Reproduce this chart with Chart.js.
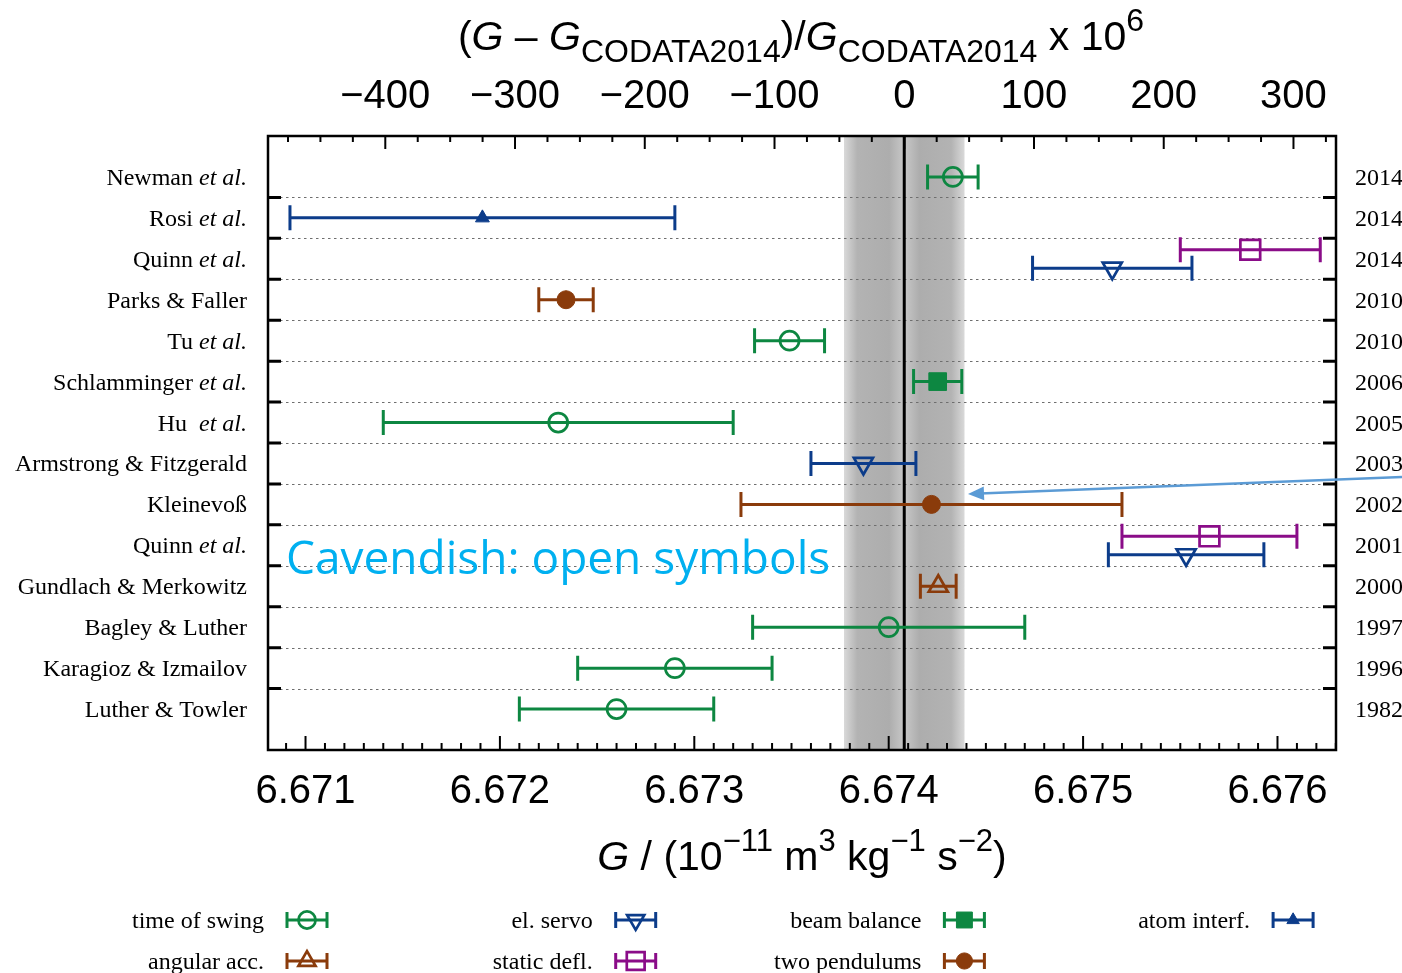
<!DOCTYPE html>
<html>
<head>
<meta charset="utf-8">
<script src="https://cdn.jsdelivr.net/npm/chart.js@4.4.1/dist/chart.umd.min.js"></script>
<style>
  html, body { margin: 0; padding: 0; background: #fff; }
  #wrap { width: 1402px; height: 973px; }
</style>
</head>
<body>
<div id="wrap"><canvas id="gChart" width="1402" height="973"></canvas></div>
<script>
// Measurements of G in units of 1e-11 m^3 kg^-1 s^-2, one row per experiment
const studies = ['Newman et al.', 'Rosi et al.', 'Quinn et al.', 'Parks & Faller', 'Tu et al.',
  'Schlamminger et al.', 'Hu  et al.', 'Armstrong & Fitzgerald', 'Kleinevoß', 'Quinn et al.',
  'Gundlach & Merkowitz', 'Bagley & Luther', 'Karagioz & Izmailov', 'Luther & Towler'];
const years = ['2014', '2014', '2014', '2010', '2010', '2006', '2005', '2003', '2002', '2001',
  '2000', '1997', '1996', '1982'];

// individual results (a row can hold two results)
const gRow = [0, 1, 2, 2, 3, 4, 5, 6, 7, 8, 9, 9, 10, 11, 12, 13];
const gValue = [6.67433, 6.67191, 6.67586, 6.67515, 6.67234, 6.67349, 6.674252, 6.6723,
  6.67387, 6.67422, 6.67565, 6.67553, 6.674255, 6.6740, 6.6729, 6.6726];
const gError = [0.00013, 0.00099, 0.00036, 0.00041, 0.00014, 0.00018, 0.000124, 0.0009,
  0.00027, 0.00098, 0.00045, 0.00040, 0.000092, 0.0007, 0.0005, 0.0005];
const gMethod = ['swing', 'atom', 'static', 'servo', 'pend', 'swing', 'beam', 'swing',
  'servo', 'pend', 'static', 'servo', 'angular', 'swing', 'swing', 'swing'];

// CODATA 2014 recommended value and its standard uncertainty
const gCodata = 6.67408;
const gCodataErr = 0.00031;

const xTicks = [6.671, 6.672, 6.673, 6.674, 6.675, 6.676];
const ppmTicks = [-400, -300, -200, -100, 0, 100, 200, 300];

const xMin = 6.670807, xMax = 6.676301;
const toPpm = g => (g - gCodata) / gCodata * 1e6;

const GREEN = '#0d8741', BLUE = '#0c3c8a', BROWN = '#8a3b0b', PURPLE = '#8a0c88';
const methodStyle = {
  swing:   { label: 'time of swing', color: GREEN,  shape: 'circle',   r: 9.5, rot: 0,   fill: false },
  angular: { label: 'angular acc.',  color: BROWN,  shape: 'triangle', r: 11,  rot: 0,   fill: false },
  servo:   { label: 'el. servo',     color: BLUE,   shape: 'triangle', r: 11,  rot: 180, fill: false },
  static:  { label: 'static defl.',  color: PURPLE, shape: 'rect',     r: 14,  rot: 0,   fill: false },
  beam:    { label: 'beam balance',  color: GREEN,  shape: 'rect',     r: 12.5, rot: 0,  fill: true },
  pend:    { label: 'two pendulums', color: BROWN,  shape: 'circle',   r: 9,   rot: 0,   fill: true },
  atom:    { label: 'atom interf.',  color: BLUE,   shape: 'triangle', r: 8,   rot: 0,   fill: true }
};
const legendColumns = [['swing', 'angular'], ['servo', 'static'], ['beam', 'pend'], ['atom']];

// two results sharing a row are pulled apart vertically
const rowOffset = gRow.map((r, i) => {
  const same = gRow.filter(v => v === r).length;
  if (same < 2) return 0;
  return gRow.indexOf(r) === i ? -0.22 : 0.23;
});

const datasets = Object.keys(methodStyle).map(key => {
  const st = methodStyle[key];
  const pts = [];
  gValue.forEach((g, i) => {
    if (gMethod[i] === key) pts.push({ x: g, y: gRow[i] + rowOffset[i], err: gError[i] });
  });
  return {
    label: st.label,
    data: pts,
    pointStyle: st.shape,
    pointRadius: st.r,
    pointHoverRadius: st.r,
    pointRotation: st.rot,
    pointBorderColor: st.color,
    pointBackgroundColor: st.fill ? st.color : 'rgba(0,0,0,0)',
    pointBorderWidth: st.fill ? 1 : 2.7,
    showLine: false
  };
});

const SERIF = '"Liberation Serif", "Times New Roman", serif';
const SANS = '"Liberation Sans", Arial, sans-serif';

// text run with italic, subscript and superscript pieces, centred on cx
function drawRich(ctx, pieces, cx, baseline, size, small) {
  const fontOf = p => {
    if (p[1] === 'i') return 'italic ' + size + 'px ' + SANS;
    if (p[1] === 'sub' || p[1] === 'sup') return small + 'px ' + SANS;
    return size + 'px ' + SANS;
  };
  let total = 0;
  pieces.forEach(p => { ctx.font = fontOf(p); total += ctx.measureText(p[0]).width; });
  let x = cx - total / 2;
  ctx.textAlign = 'left';
  ctx.textBaseline = 'alphabetic';
  pieces.forEach(p => {
    ctx.font = fontOf(p);
    const dy = p[1] === 'sub' ? 12 : (p[1] === 'sup' ? -19 : 0);
    ctx.fillText(p[0], x, baseline + dy);
    x += ctx.measureText(p[0]).width;
  });
}

function drawGlyph(ctx, key, cx, cy, half, capH, scale) {
  const st = methodStyle[key];
  ctx.save();
  ctx.strokeStyle = st.color;
  ctx.lineWidth = 3;
  ctx.beginPath();
  ctx.moveTo(cx - half, cy); ctx.lineTo(cx + half, cy);
  ctx.moveTo(cx - half, cy - capH); ctx.lineTo(cx - half, cy + capH);
  ctx.moveTo(cx + half, cy - capH); ctx.lineTo(cx + half, cy + capH);
  ctx.stroke();
  ctx.fillStyle = st.fill ? st.color : 'rgba(0,0,0,0)';
  ctx.lineWidth = st.fill ? 1 : 2.7;
  Chart.helpers.drawPoint(ctx, {
    pointStyle: st.shape, radius: st.r * scale, rotation: st.rot, borderWidth: ctx.lineWidth
  }, cx, cy);
  ctx.restore();
}

const gPlot = {
  id: 'gPlot',
  beforeDatasetsDraw(chart) {
    const { ctx, chartArea: a, scales: { x, y } } = chart;
    ctx.save();
    // CODATA 2014 band, each half shaded like a rounded strip
    const xc = x.getPixelForValue(gCodata);
    const xl = x.getPixelForValue(gCodata - gCodataErr);
    const xr = x.getPixelForValue(gCodata + gCodataErr);
    [[xl, xc], [xr, xc]].forEach(([outer, inner]) => {
      const grad = ctx.createLinearGradient(outer, 0, inner, 0);
      grad.addColorStop(0, '#d9d9d9');
      grad.addColorStop(0.22, '#b3b3b3');
      grad.addColorStop(0.75, '#adadad');
      grad.addColorStop(1, '#c8c8c8');
      ctx.fillStyle = grad;
      ctx.fillRect(Math.min(outer, inner), a.top, Math.abs(inner - outer), a.bottom - a.top);
    });
    // dotted separators between rows
    ctx.strokeStyle = '#6e6e6e';
    ctx.lineWidth = 1;
    ctx.setLineDash([2.5, 3.5]);
    for (let k = 0; k < studies.length - 1; k++) {
      const py = Math.round(y.getPixelForValue(k + 0.5)) + 0.5;
      ctx.beginPath(); ctx.moveTo(a.left, py); ctx.lineTo(a.right, py); ctx.stroke();
    }
    ctx.setLineDash([]);
    // CODATA value
    ctx.strokeStyle = '#000';
    ctx.lineWidth = 3;
    ctx.beginPath(); ctx.moveTo(xc, a.top); ctx.lineTo(xc, a.bottom); ctx.stroke();

    // "Cavendish" note
    ctx.fillStyle = '#00b0f0';
    ctx.font = '46px "Open Sans", sans-serif';
    ctx.textAlign = 'left';
    ctx.textBaseline = 'alphabetic';
    ctx.fillText('Cavendish: open symbols', 286, 574);

    // error bars
    chart.data.datasets.forEach(ds => {
      ctx.strokeStyle = ds.pointBorderColor;
      ctx.lineWidth = 3;
      ds.data.forEach(p => {
        const x0 = x.getPixelForValue(p.x - p.err);
        const x1 = x.getPixelForValue(p.x + p.err);
        const py = y.getPixelForValue(p.y);
        ctx.beginPath();
        ctx.moveTo(x0, py); ctx.lineTo(x1, py);
        ctx.moveTo(x0, py - 12.5); ctx.lineTo(x0, py + 12.5);
        ctx.moveTo(x1, py - 12.5); ctx.lineTo(x1, py + 12.5);
        ctx.stroke();
      });
    });
    ctx.restore();
  },
  afterDatasetsDraw(chart) {
    const { ctx, chartArea: a, scales: { x, x2, y } } = chart;
    ctx.save();
    ctx.strokeStyle = '#000';
    // minor / major ticks on the G axis
    ctx.lineWidth = 2;
    for (let k = Math.ceil(xMin * 1e4); k <= Math.floor(xMax * 1e4); k++) {
      const px = x.getPixelForValue(k / 1e4);
      const len = k % 10 === 0 ? 14 : 7;
      ctx.beginPath(); ctx.moveTo(px, a.bottom); ctx.lineTo(px, a.bottom - len); ctx.stroke();
    }
    // ticks on the relative-deviation axis
    for (let p = Math.ceil(x2.min / 25) * 25; p <= x2.max; p += 25) {
      const px = x2.getPixelForValue(p);
      const len = p % 100 === 0 ? 13 : 6;
      ctx.beginPath(); ctx.moveTo(px, a.top); ctx.lineTo(px, a.top + len); ctx.stroke();
    }
    // row ticks on both sides
    ctx.lineWidth = 3;
    for (let k = 0; k < studies.length - 1; k++) {
      const py = y.getPixelForValue(k + 0.5);
      ctx.beginPath();
      ctx.moveTo(a.left, py); ctx.lineTo(a.left + 13, py);
      ctx.moveTo(a.right, py); ctx.lineTo(a.right - 13, py);
      ctx.stroke();
    }
    // frame
    ctx.lineWidth = 2.5;
    ctx.strokeRect(a.left, a.top, a.right - a.left, a.bottom - a.top);
    ctx.restore();
  },
  afterDraw(chart) {
    const { ctx, chartArea: a, scales: { y } } = chart;
    ctx.save();
    ctx.fillStyle = '#000';
    ctx.textBaseline = 'alphabetic';
    // experiment names (with italic "et al.") and years
    studies.forEach((name, i) => {
      const py = y.getPixelForValue(i) + 8;
      const idx = name.indexOf('et al.');
      const parts = idx >= 0 ? [[name.slice(0, idx), false], ['et al.', true]] : [[name, false]];
      let w = 0;
      parts.forEach(p => { ctx.font = (p[1] ? 'italic ' : '') + '24px ' + SERIF; w += ctx.measureText(p[0]).width; });
      let px = 247 - w;
      ctx.textAlign = 'left';
      parts.forEach(p => {
        ctx.font = (p[1] ? 'italic ' : '') + '24px ' + SERIF;
        ctx.fillText(p[0], px, py);
        px += ctx.measureText(p[0]).width;
      });
      ctx.font = '24px ' + SERIF;
      ctx.fillText(years[i], a.right + 19, py);
    });

    // axis titles
    drawRich(ctx, [['(', 'n'], ['G', 'i'], [' \u2013 ', 'n'], ['G', 'i'], ['CODATA2014', 'sub'],
      [')/', 'n'], ['G', 'i'], ['CODATA2014', 'sub'], [' x 10', 'n'], ['6', 'sup']], 801, 50, 41, 32);
    drawRich(ctx, [['G', 'i'], [' / (10', 'n'], ['\u221211', 'sup'], [' m', 'n'], ['3', 'sup'],
      [' kg', 'n'], ['\u22121', 'sup'], [' s', 'n'], ['\u22122', 'sup'], [')', 'n']], 802, 870, 41, 31);

    // legend
    legendColumns.forEach((col, ci) => {
      const right = 264 + ci * 328.7;
      col.forEach((key, ri) => {
        const cy = 920 + ri * 41;
        ctx.font = '24px ' + SERIF;
        ctx.fillStyle = '#000';
        ctx.textAlign = 'right';
        ctx.fillText(methodStyle[key].label, right, cy + 8);
        drawGlyph(ctx, key, right + 43, cy, 20, 8, 0.9);
      });
    });

    // arrow pointing at the CODATA band
    const tipX = 968, tipY = 494, fromX = 1402, fromY = 477;
    const ang = Math.atan2(tipY - fromY, tipX - fromX);
    ctx.strokeStyle = '#5b9bd5';
    ctx.fillStyle = '#5b9bd5';
    ctx.lineWidth = 2.5;
    ctx.beginPath();
    ctx.moveTo(fromX, fromY);
    ctx.lineTo(tipX - Math.cos(ang) * 12, tipY - Math.sin(ang) * 12);
    ctx.stroke();
    ctx.beginPath();
    ctx.moveTo(tipX, tipY);
    ctx.lineTo(tipX - Math.cos(ang) * 16 + Math.sin(ang) * 7, tipY - Math.sin(ang) * 16 - Math.cos(ang) * 7);
    ctx.lineTo(tipX - Math.cos(ang) * 16 - Math.sin(ang) * 7, tipY - Math.sin(ang) * 16 + Math.cos(ang) * 7);
    ctx.closePath();
    ctx.fill();
    ctx.restore();
  }
};

new Chart(document.getElementById('gChart'), {
  type: 'scatter',
  data: { datasets },
  options: {
    responsive: false,
    animation: false,
    events: [],
    layout: { padding: 0 },
    plugins: { legend: { display: false }, tooltip: { enabled: false } },
    scales: {
      x: {
        type: 'linear', position: 'bottom', min: xMin, max: xMax,
        grid: { display: false, drawTicks: false }, border: { display: false },
        afterBuildTicks: s => { s.ticks = xTicks.map(v => ({ value: v })); },
        afterFit: s => { s.height = 973 - 750; },
        ticks: {
          font: { family: 'Liberation Sans', size: 40 }, color: '#000', padding: 18,
          autoSkip: false, maxRotation: 0, callback: v => v.toFixed(3)
        }
      },
      x2: {
        type: 'linear', position: 'top', min: toPpm(xMin), max: toPpm(xMax),
        grid: { display: false, drawTicks: false }, border: { display: false },
        afterBuildTicks: s => { s.ticks = ppmTicks.map(v => ({ value: v })); },
        afterFit: s => { s.height = 136; },
        ticks: {
          font: { family: 'Liberation Sans', size: 40 }, color: '#000', padding: 15,
          autoSkip: false, maxRotation: 0, callback: v => String(v).replace('-', '\u2212')
        }
      },
      y: {
        type: 'linear', position: 'left', min: -1, max: 14, reverse: true,
        grid: { display: false, drawTicks: false }, border: { display: false },
        ticks: { display: false },
        afterFit: s => { s.width = 268; }
      },
      y2: {
        type: 'linear', position: 'right', min: -1, max: 14, reverse: true,
        grid: { display: false, drawTicks: false }, border: { display: false },
        ticks: { display: false },
        afterFit: s => { s.width = 66; }
      }
    }
  },
  plugins: [gPlot]
});
</script>
</body>
</html>
